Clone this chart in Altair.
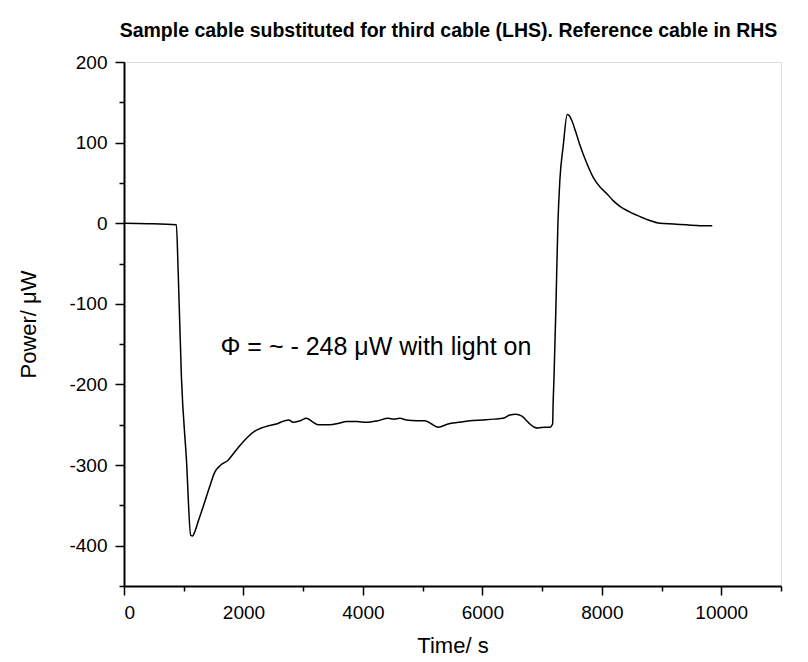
import altair as alt
import pandas as pd

# Data
time_s = [0, 400, 877, 905, 961, 1046, 1117, 1150, 1184, 1250, 1324,
          1420, 1519, 1620, 1742, 1840, 1938, 2060, 2189, 2300, 2385, 2550, 2692, 2760,
          2831, 2950, 3055, 3150, 3250, 3445, 3600, 3725, 3900, 4060, 4250, 4422, 4520,
          4618, 4730, 4900, 5037, 5150, 5260, 5427, 5600, 5790, 6000, 6200, 6348, 6460,
          6560, 6656, 6730, 6796, 6870, 6935, 7050, 7130, 7176, 7186, 7198, 7231, 7265,
          7298, 7354, 7421, 7450, 7494, 7560, 7633, 7740, 7856, 7970, 8080, 8190, 8303,
          8440, 8582, 8780, 8973, 9200, 9420, 9650, 9849]
power_uw = [0, -0.5, -2, -55, -190, -294, -387, -388, -383, -368, -352,
            -330, -309, -300, -294, -285, -276, -266, -258, -254, -252, -249, -245, -244,
            -247, -245, -242, -246, -250, -250, -248, -246, -246, -247, -245, -242, -243,
            -242, -244, -245, -245, -249, -253, -249, -247, -245, -244, -243, -242, -238,
            -237, -239, -244, -249, -253, -254, -253, -253, -249, -220, -195, -105, 0,
            54, 96, 135, 134, 128, 114, 97, 76, 57, 45, 37, 28, 21,
            15, 10, 4, 0, -1, -2, -3, -3]

x_major = [0, 2000, 4000, 6000, 8000, 10000]
x_minor = [1000, 3000, 5000, 7000, 9000, 11000]
y_major = [-400, -300, -200, -100, 0, 100, 200]
y_minor = [-450, -350, -250, -150, -50, 50, 150]

note_x = [1615]
note_y = [-164]
note_text = ["Φ = ~ - 248 μW with light on"]

FONT = "Liberation Sans"

df = pd.DataFrame({"t": time_s, "p": power_uw})
note = pd.DataFrame({"t": note_x, "p": note_y, "label": note_text})

xscale = alt.Scale(domain=[0, 11000], nice=False, zero=False)
yscale = alt.Scale(domain=[-450, 200], nice=False, zero=False)

line = alt.Chart(df).mark_line(color="black", strokeWidth=1.5, interpolate="monotone").encode(
    x=alt.X("t:Q", scale=xscale,
            axis=alt.Axis(orient="bottom", values=x_major, tickSize=9, tickWidth=1.5,
                          labelPadding=8, labelFontSize=19, labelFont=FONT,
                          labelColor="black", domainColor="black", domainWidth=2,
                          tickColor="black", grid=False, title="Time/ s",
                          titleFont=FONT, titleFontSize=22, titleFontWeight="normal",
                          titleColor="black", titleBaseline="alphabetic", titleY=66,
                          labelExpr="datum.value + ''")),
    y=alt.Y("p:Q", scale=yscale,
            axis=alt.Axis(orient="left", values=y_major, tickSize=9, tickWidth=1.5,
                          labelPadding=8, labelFontSize=19, labelFont=FONT,
                          labelColor="black", domainColor="black", domainWidth=2,
                          tickColor="black", grid=False, title="Power/ μW",
                          titleFont=FONT, titleFontSize=22, titleFontWeight="normal",
                          titleColor="black", titleBaseline="alphabetic", titleX=-89,
                          labelExpr="datum.value + ''")),
)

text = alt.Chart(note).mark_text(align="left", baseline="alphabetic", fontSize=25,
                                 font=FONT, color="black").encode(
    x=alt.X("t:Q", scale=xscale,
            axis=alt.Axis(orient="bottom", values=x_minor, tickSize=5, tickWidth=1.5,
                          labels=False, domain=False, grid=False, title=None,
                          tickColor="black")),
    y=alt.Y("p:Q", scale=yscale,
            axis=alt.Axis(orient="left", values=y_minor, tickSize=5, tickWidth=1.5,
                          labels=False, domain=False, grid=False, title=None,
                          tickColor="black")),
    text="label:N",
)

chart = alt.layer(line, text).resolve_axis(x="independent", y="independent").properties(
    width=657,
    height=524,
    autosize=alt.AutoSizeParams(type="none"),
    padding={"left": 116, "top": 54, "right": 19, "bottom": 74},
    title=alt.TitleParams(
        text="Sample cable substituted for third cable (LHS). Reference cable in RHS",
        font=FONT, fontSize=19.5, fontWeight="bold", color="black",
        anchor="middle", baseline="alphabetic", offset=-3, dx=-4),
).configure_view(stroke=None).configure(background="white")

chart.save("out.html", embed_options={"renderer": "svg", "actions": False})
